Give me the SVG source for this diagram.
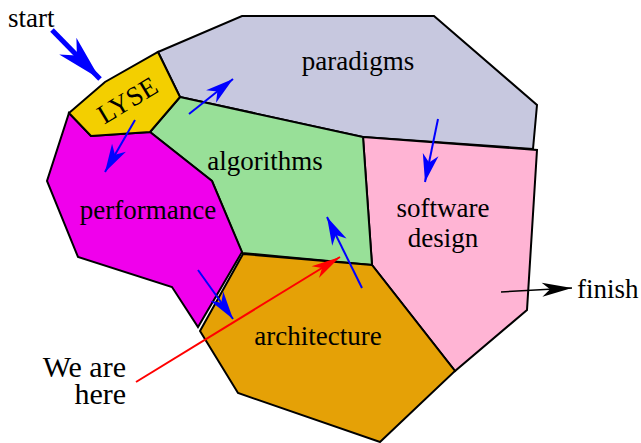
<svg xmlns="http://www.w3.org/2000/svg" width="641" height="443" viewBox="0 0 641 443" font-family="'Liberation Serif', 'Times New Roman', 'DejaVu Serif', serif">
<style>
.region{stroke:#000;stroke-width:2;stroke-linejoin:miter}
.lbl{font-family:'Liberation Serif','Times New Roman','DejaVu Serif',serif;font-size:27px;fill:#000}
.big{font-size:30px}
.blue{stroke:#0000ff;stroke-width:2;fill:none}
</style>
<defs>
<marker id="hb" markerUnits="userSpaceOnUse" viewBox="-30 -10 32 20" markerWidth="32" markerHeight="20" refX="0" refY="0" orient="auto">
<path d="M0,0 L-28,-8 L-20,0 L-28,8 Z" fill="#0000ff"/>
</marker>
<marker id="hbig" markerUnits="userSpaceOnUse" viewBox="-50 -14 52 28" markerWidth="52" markerHeight="28" refX="0" refY="0" orient="auto">
<path d="M0,0 L-46,-12 L-33,0 L-46,12 Z" fill="#0000ff"/>
</marker>
<marker id="hr" markerUnits="userSpaceOnUse" viewBox="-30 -10 32 20" markerWidth="32" markerHeight="20" refX="0" refY="0" orient="auto">
<path d="M0,0 L-29,-7 L-21,0 L-29,7 Z" fill="#ff0000"/>
</marker>
<marker id="hk" markerUnits="userSpaceOnUse" viewBox="-32 -10 34 20" markerWidth="34" markerHeight="20" refX="0" refY="0" orient="auto">
<path d="M0,0 L-30,-7 L-22,0 L-30,7 Z" fill="#000"/>
</marker>
</defs>
<rect width="641" height="443" fill="#fff"/>
<g id="paradigms">
<polygon class="region" fill="#c7c8df" points="158,52 242,16 434,16 537,105 533,149 363,137 180,97"/>
<text class="lbl" x="358" y="70" text-anchor="middle">paradigms</text>
</g>
<g id="software-design">
<polygon class="region" fill="#ffb4d4" points="363,137 537,150 527,310 455,371 372,265"/>
<text class="lbl" x="443" y="217" text-anchor="middle">software</text>
<text class="lbl" x="443" y="247" text-anchor="middle">design</text>
</g>
<g id="algorithms">
<polygon class="region" fill="#98e098" points="180,97 363,137 372,265 242,253 212,181 150,132"/>
<text class="lbl" x="265" y="170" text-anchor="middle">algorithms</text>
</g>
<g id="performance">
<polygon class="region" fill="#f000ec" points="69,113 91,136 150,132 212,181 242,252 198,327 172,287 78,257 47,181"/>
<text class="lbl" x="148" y="219" text-anchor="middle">performance</text>
</g>
<g id="architecture">
<polygon class="region" fill="#e5a106" points="243,254 372,265 455,371 380,442 238,393 200,331"/>
<text class="lbl" x="318" y="345" text-anchor="middle">architecture</text>
</g>
<g id="lyse">
<polygon class="region" fill="#f3cf00" points="69,113 105,82 158,52 180,97 150,132 91,136"/>
<text class="lbl" transform="translate(132,108) rotate(-31)" text-anchor="middle">LYSE</text>
</g>
<g id="start">
<text class="lbl" x="8" y="27">start</text>
</g>
<g id="finish">
<text class="lbl" x="577" y="298">finish</text>
</g>
<g id="we-are-here">
<text class="lbl big" x="126" y="377" text-anchor="end">We are</text>
<text class="lbl big" x="126" y="404" text-anchor="end">here</text>
</g>
<g id="connectors">
<line x1="52" y1="30" x2="100" y2="79" stroke="#0000ff" stroke-width="5" marker-end="url(#hbig)"/>
<line class="blue" x1="135" y1="120" x2="105" y2="172" marker-end="url(#hb)"/>
<line class="blue" x1="189" y1="114" x2="233" y2="79" marker-end="url(#hb)"/>
<line class="blue" x1="438" y1="119" x2="425" y2="182" marker-end="url(#hb)"/>
<line class="blue" x1="198" y1="270" x2="233" y2="319" marker-end="url(#hb)"/>
<line class="blue" x1="362" y1="288" x2="327" y2="217" marker-end="url(#hb)"/>
<line x1="136" y1="382" x2="340" y2="257" stroke="#ff0000" stroke-width="2" marker-end="url(#hr)"/>
<line x1="501" y1="292" x2="572" y2="288" stroke="#000" stroke-width="1.5" marker-end="url(#hk)"/>
</g>
</svg>
